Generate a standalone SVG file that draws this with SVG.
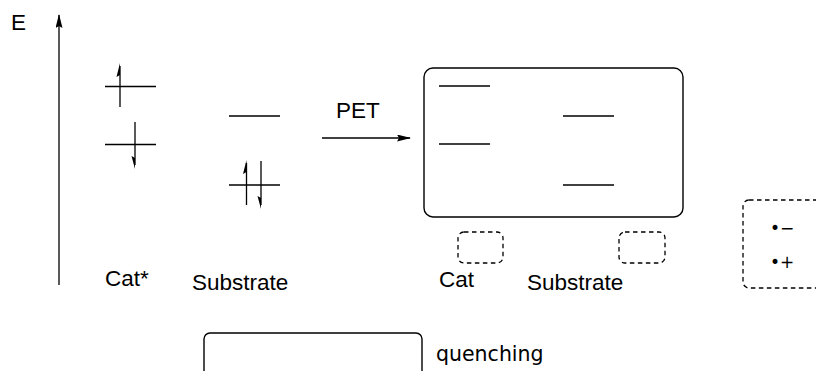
<svg xmlns="http://www.w3.org/2000/svg" width="816" height="371" viewBox="0 0 816 371">
<style>
.t{font-family:"Liberation Sans",Arial,sans-serif;font-size:22.5px;fill:#000}
.lv{stroke:#000;stroke-width:1.3;fill:none}
.box{fill:none;stroke:#000;stroke-width:1.4}
.dash{fill:none;stroke:#000;stroke-width:1.3;stroke-dasharray:4.5 3.5}
.e{stroke:#000;stroke-width:1.3}
.ion{font-family:"DejaVu Sans",Verdana,sans-serif;font-size:17px;fill:#000}
</style>
<defs>
<marker id="ah" markerWidth="14" markerHeight="7" refX="13" refY="3.5" orient="auto" markerUnits="userSpaceOnUse">
<path d="M0,0 L14,3.5 L0,7 L2,3.5 Z" fill="#000"/>
</marker>
</defs>
<rect width="816" height="371" fill="#fff"/>
<g id="connectors">
<line x1="59" y1="285" x2="59" y2="15" class="lv" marker-end="url(#ah)"/>
<line x1="322" y1="138" x2="410" y2="138" class="lv" marker-end="url(#ah)"/>
</g>
<g id="axis-label"><text class="t" x="11" y="30">E</text></g>
<g id="pet-label"><text class="t" x="336" y="118">PET</text></g>
<g id="cat-star">
<line class="lv" x1="105" y1="86.5" x2="156" y2="86.5"/>
<line class="lv" x1="105" y1="144.5" x2="156" y2="144.5"/>
<line class="e" x1="120" y1="107" x2="120" y2="66"/>
<path d="M120,63 L116.5,77 L120,75 Z" fill="#000"/>
<line class="e" x1="135" y1="122" x2="135" y2="165"/>
<path d="M135,169 L131.5,156 L135,158 Z" fill="#000"/>
<text class="t" x="105" y="286">Cat*</text>
</g>
<g id="substrate">
<line class="lv" x1="229" y1="116" x2="280" y2="116"/>
<line class="lv" x1="229" y1="185" x2="280" y2="185"/>
<line class="e" x1="246.5" y1="205" x2="246.5" y2="163"/>
<path d="M246.5,160 L243,174 L246.5,172 Z" fill="#000"/>
<line class="e" x1="261" y1="161" x2="261" y2="205"/>
<path d="M261,209 L257.5,196 L261,198 Z" fill="#000"/>
<text class="t" x="192" y="290">Substrate</text>
</g>
<g id="complex">
<rect class="box" x="424" y="68" width="259" height="149" rx="9"/>
<line class="lv" x1="439" y1="86" x2="490" y2="86"/>
<line class="lv" x1="439" y1="144" x2="490" y2="144"/>
<line class="lv" x1="563" y1="116" x2="614" y2="116"/>
<line class="lv" x1="563" y1="185" x2="614" y2="185"/>
</g>
<g id="cat-radical">
<rect class="dash" x="458" y="232" width="45" height="31" rx="6"/>
<text class="t" x="439" y="287">Cat</text>
</g>
<g id="substrate-radical">
<rect class="dash" x="619" y="232" width="46" height="31" rx="6"/>
<text class="t" x="527" y="290">Substrate</text>
</g>
<g id="legend-ions">
<rect class="dash" x="743" y="200" width="100" height="88" rx="6" stroke-dasharray="5.5 4"/>
<text class="ion" x="770" y="234">•−</text>
<text class="ion" x="770" y="268">•+</text>
</g>
<g id="legend-quenching">
<rect class="box" x="204" y="333" width="218" height="60" rx="6" stroke-width="1.2"/>
<text x="436" y="361" font-family="'DejaVu Sans',Verdana,sans-serif" font-size="20.5">quenching</text>
</g>
</svg>
